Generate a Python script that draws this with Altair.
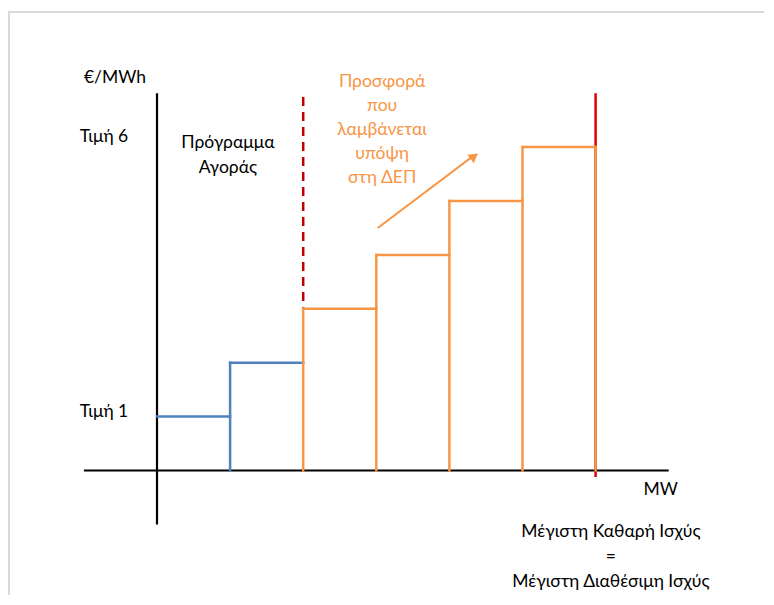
import altair as alt
import pandas as pd

# ---- data ----
mw_breaks = [0, 1, 2, 3, 4, 5, 6]          # MW breakpoints of the offer steps
prices = [1, 2, 3, 4, 5, 6]                # price level of each step (Τιμή 1..6)
step_group = ["market", "market", "offer", "offer", "offer", "offer"]

axis_min, axis_max = -1, 7                 # drawn axis extents (both axes)
dashed_x, dashed_y = 2, [3, 6.93]          # red dashed separator
max_x, max_y = 6, [-0.12, 7.0]             # red solid max-capacity line
arrow_from = (3.02, 4.50)
arrow_to = (4.30, 5.81)
arrow_head = (4.34, 5.83)

labels_black = [
    ("€/MWh", -0.575, 7.28),
    ("Τιμή 6", -0.725, 6.19),
    ("Τιμή 1", -0.725, 1.085),
    ("Πρόγραμμα\nΑγοράς", 0.97, 6.076),
    ("MW", 6.89, -0.36),
    ("Μέγιστη Καθαρή Ισχύς\n=\nΜέγιστη Διαθέσιμη Ισχύς", 6.21, -1.141),
]
label_orange = ("Προσφορά\nπου\nλαμβάνεται\nυπόψη\nστη ΔΕΠ", 3.08, 7.208)

BLUE = "#4f81bd"
ORANGE = "#f79646"
RED = "#c00000"
FONT = "Lato"
FS = 17.5

W, H = 756, 587
x0_px, x_unit = 149.0, 73.1   # px from plot left to x=0
y0_px, y_unit = 462.5, 53.9   # px from plot top to y=0
xdom = [-x0_px / x_unit, (W - x0_px) / x_unit]
ydom = [(y0_px - H) / y_unit, y0_px / y_unit]

xs = alt.Scale(domain=xdom, nice=False, zero=False)
ys = alt.Scale(domain=ydom, nice=False, zero=False)

# ---- build segment table ----
rows = []
for i, p in enumerate(prices):
    rows.append(dict(x=mw_breaks[i], x2=mw_breaks[i + 1], y=p, y2=p, g=step_group[i]))
    if i >= 1:
        rows.append(dict(x=mw_breaks[i], x2=mw_breaks[i], y=0, y2=p, g=step_group[i]))
rows.append(dict(x=mw_breaks[-1], x2=mw_breaks[-1], y=0, y2=prices[-1], g=step_group[-1]))
steps = pd.DataFrame(rows)

axes_df = pd.DataFrame([
    dict(x=axis_min, x2=axis_max, y=0, y2=0),
    dict(x=0, x2=0, y=axis_min, y2=axis_max),
])

enc = dict(
    x=alt.X("x:Q", scale=xs, axis=None),
    x2="x2:Q",
    y=alt.Y("y:Q", scale=ys, axis=None),
    y2="y2:Q",
)

frame = alt.Chart(pd.DataFrame({"a": [0]})).mark_rule(color="#d9d9d9", strokeWidth=2).encode(
    x=alt.value(1), y=alt.value(4), y2=alt.value(H)
) + alt.Chart(pd.DataFrame({"a": [0]})).mark_rule(color="#d9d9d9", strokeWidth=2).encode(
    x=alt.value(0), x2=alt.value(W), y=alt.value(4)
)

axes = alt.Chart(axes_df).mark_rule(color="black", strokeWidth=2.2).encode(**enc)

red_solid = alt.Chart(pd.DataFrame([dict(x=max_x, x2=max_x, y=max_y[1], y2=max_y[0])])).mark_rule(
    color="#e00000", strokeWidth=2.5).encode(**enc)

red_dash = alt.Chart(pd.DataFrame([dict(x=dashed_x, x2=dashed_x, y=dashed_y[1], y2=dashed_y[0])])).mark_rule(
    color=RED, strokeWidth=2.5, strokeDash=[9, 6]).encode(**enc)

step_lines = alt.Chart(steps).mark_rule(strokeWidth=2.5, strokeCap="square").encode(
    **enc,
    color=alt.Color("g:N", scale=alt.Scale(domain=["market", "offer"], range=[BLUE, ORANGE]), legend=None),
)

arrow_line = alt.Chart(pd.DataFrame([dict(x=arrow_from[0], x2=arrow_to[0], y=arrow_from[1], y2=arrow_to[1])])).mark_rule(
    color=ORANGE, strokeWidth=2).encode(**enc)

arrow_tip = alt.Chart(pd.DataFrame([dict(x=arrow_head[0], y=arrow_head[1])])).mark_point(
    shape="triangle-up", filled=True, color=ORANGE, opacity=1, size=110, angle=53
).encode(x=alt.X("x:Q", scale=xs, axis=None), y=alt.Y("y:Q", scale=ys, axis=None))

lab_df = pd.DataFrame(labels_black, columns=["t", "x", "y"])
texts = alt.Chart(lab_df).mark_text(
    font=FONT, fontSize=FS, color="black", align="center", baseline="middle",
    lineBreak="\n", lineHeight=25
).encode(x=alt.X("x:Q", scale=xs, axis=None), y=alt.Y("y:Q", scale=ys, axis=None), text="t:N")

otext = alt.Chart(pd.DataFrame([label_orange], columns=["t", "x", "y"])).mark_text(
    font=FONT, fontSize=FS, color=ORANGE, align="center", baseline="middle",
    lineBreak="\n", lineHeight=24
).encode(x=alt.X("x:Q", scale=xs, axis=None), y=alt.Y("y:Q", scale=ys, axis=None), text="t:N")

chart = alt.layer(
    frame, red_solid, red_dash, axes, step_lines, arrow_line, arrow_tip, texts, otext
).properties(
    width=W, height=H, padding=0, autosize=alt.AutoSizeParams(type="none"), background="white"
).configure_view(stroke=None)

chart.save("out.html", embed_options={"renderer": "svg", "actions": False})
